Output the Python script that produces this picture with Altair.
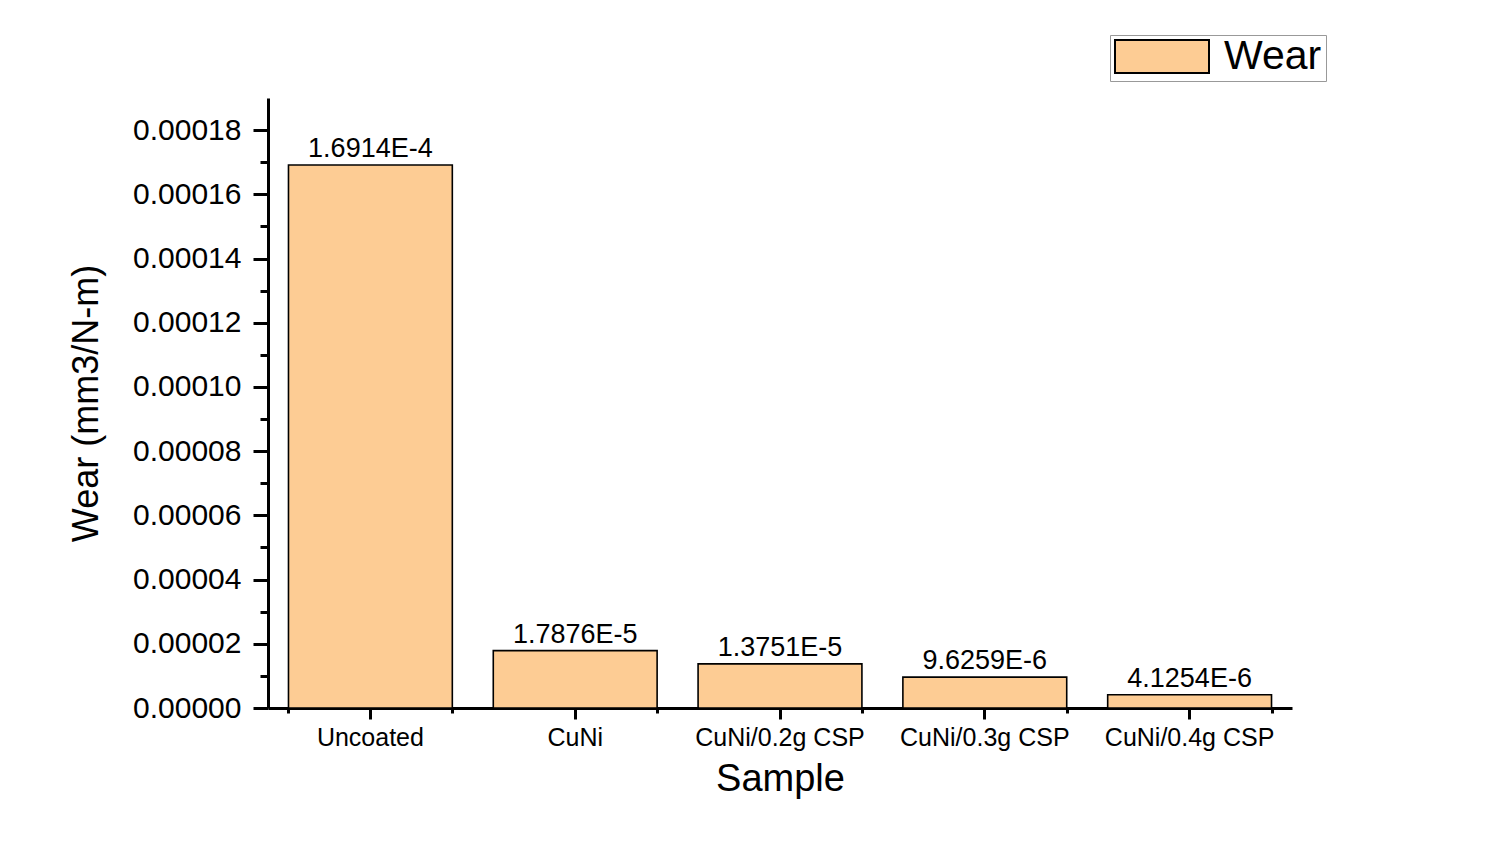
import pandas as pd
import altair as alt

# --- data ---
samples = ["Uncoated", "CuNi", "CuNi/0.2g CSP", "CuNi/0.3g CSP", "CuNi/0.4g CSP"]
wear = [1.6914e-4, 1.7876e-5, 1.3751e-5, 9.6259e-6, 4.1254e-6]
wear_labels = ["1.6914E-4", "1.7876E-5", "1.3751E-5", "9.6259E-6", "4.1254E-6"]
y_major = [0.0, 0.00002, 0.00004, 0.00006, 0.00008, 0.00010, 0.00012, 0.00014, 0.00016, 0.00018]
y_minor = [0.00001, 0.00003, 0.00005, 0.00007, 0.00009, 0.00011, 0.00013, 0.00015, 0.00017]

df = pd.DataFrame({"Sample": samples, "Wear": wear, "label": wear_labels, "series": "Wear"})

FONT = "Liberation Sans"
FILL = "#FDCC94"

x_scale = alt.Scale(domain=samples, paddingInner=0.2, paddingOuter=0.1)
y_scale = alt.Scale(domain=[0, 0.00019], nice=False, zero=True)

base = alt.Chart(df)

bars = base.mark_bar(stroke="black", strokeWidth=1.6).encode(
    x=alt.X("Sample:N", scale=x_scale, sort=samples,
            axis=alt.Axis(title="Sample", orient="bottom", labelAngle=0, tickSize=11, tickWidth=3,
                          domainWidth=3, domainColor="black", tickColor="black",
                          labelFont=FONT, labelFontSize=25, labelColor="black",
                          labelBaseline="alphabetic", labelPadding=26,
                          titleFont=FONT, titleFontSize=38, titleFontWeight="normal", titleColor="black",
                          titleBaseline="alphabetic", titleY=82)),
    y=alt.Y("Wear:Q", scale=y_scale,
            axis=alt.Axis(title="Wear (mm3/N-m)", orient="left", values=y_major, format=".5f",
                          grid=False, tickSize=15, tickWidth=3, domainWidth=3,
                          domainColor="black", tickColor="black",
                          labelFont=FONT, labelFontSize=30, labelColor="black", labelPadding=12,
                          titleFont=FONT, titleFontSize=36, titleFontWeight="normal", titleColor="black",
                          titleX=-163, titleBaseline="bottom")),
    color=alt.Color("series:N", scale=alt.Scale(domain=["Wear"], range=[FILL]),
                    legend=alt.Legend(title=None, orient="none", legendX=842, legendY=-63,
                                      symbolType="M-1,-0.35L1,-0.35L1,0.35L-1,0.35Z",
                                      symbolSize=8836, symbolStrokeColor="black", symbolStrokeWidth=2,
                                      symbolOpacity=1, clipHeight=35, labelFont=FONT, labelFontSize=41,
                                      labelColor="black", labelOffset=14,
                                      strokeColor="#999999", padding=4, fillColor="white")),
)

# minor ticks on both axes via extra hidden axes
minor = base.mark_bar(opacity=0).encode(
    x=alt.X("Sample:N", scale=x_scale, sort=samples,
            axis=alt.Axis(title=None, orient="bottom", labels=False, tickBand="extent",
                          tickSize=5, tickWidth=3, domain=False, tickColor="black")),
    y=alt.Y("Wear:Q", scale=y_scale,
            axis=alt.Axis(title=None, orient="left", values=y_minor, labels=False, grid=False,
                          tickSize=8, tickWidth=3, domain=False, tickColor="black")),
)

text = base.mark_text(font=FONT, fontSize=27, baseline="bottom", dy=-2, color="black").encode(
    x=alt.X("Sample:N", scale=x_scale, sort=samples, axis=None),
    y=alt.Y("Wear:Q", scale=y_scale, axis=None),
    text="label:N",
)

chart = alt.layer(bars, minor, text).resolve_axis(x="independent", y="independent").properties(
    width=1024,
    height=610,
    view=alt.ViewBackground(stroke="transparent", strokeWidth=0),
    autosize=alt.AutoSizeParams(type="none"),
    padding={"left": 260, "top": 90, "right": 199, "bottom": 133},
).configure_view(stroke="transparent", strokeWidth=0).configure(background="white")

chart.save("out.html", embed_options={"renderer": "svg", "actions": False})
